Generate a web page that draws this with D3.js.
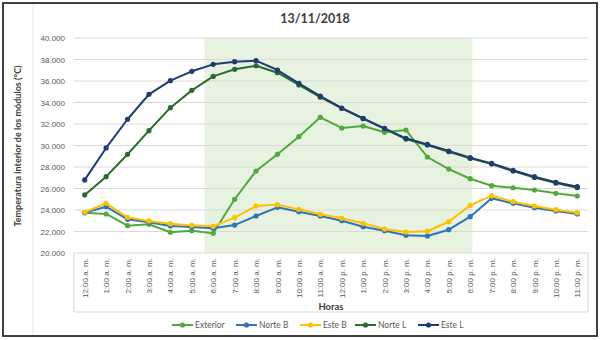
<!DOCTYPE html>
<html lang="es">
<head>
  <meta charset="UTF-8">
  <title>13/11/2018</title>
  <script src="https://d3js.org/d3.v7.min.js"></script>
  <style>
    body { margin: 0; background: #fff; }
    svg { display: block; font-family: Lato, "Open Sans", sans-serif; }
    .y-axis text { font-size: 8px; fill: #595959; }
    .x-axis text { font-size: 8px; fill: #595959; }
    .legend text { font-size: 8.5px; fill: #595959; }
  </style>
</head>
<body>
  <svg id="chart" width="600" height="340"></svg>

  <script>
    // Horas del día
    const horas = [
      "12:00 a. m.", "1:00 a. m.", "2:00 a. m.", "3:00 a. m.", "4:00 a. m.", "5:00 a. m.",
      "6:00 a. m.", "7:00 a. m.", "8:00 a. m.", "9:00 a. m.", "10:00 a. m.", "11:00 a. m.",
      "12:00 p. m.", "1:00 p. m.", "2:00 p. m.", "3:00 p. m.", "4:00 p. m.", "5:00 p. m.",
      "6:00 p. m.", "7:00 p. m.", "8:00 p. m.", "9:00 p. m.", "10:00 p. m.", "11:00 p. m."
    ];

    // Temperaturas (°C)
    const exterior = [23.75, 23.63, 22.54, 22.67, 21.93, 22.07, 21.83, 25.0, 27.63, 29.18, 30.82, 32.62,
                      31.63, 31.81, 31.23, 31.44, 28.93, 27.81, 26.91, 26.26, 26.07, 25.86, 25.55, 25.3];
    const norteB   = [23.75, 24.31, 23.13, 22.86, 22.51, 22.42, 22.3, 22.6, 23.44, 24.25, 23.84, 23.44,
                      23.0, 22.45, 22.07, 21.65, 21.58, 22.17, 23.38, 25.09, 24.62, 24.21, 23.91, 23.63];
    const esteB    = [23.79, 24.62, 23.32, 22.98, 22.73, 22.57, 22.48, 23.29, 24.37, 24.5, 24.06, 23.6,
                      23.23, 22.76, 22.23, 21.95, 22.02, 22.91, 24.43, 25.33, 24.77, 24.37, 24.03, 23.75];
    const norteL   = [25.4, 27.1, 29.18, 31.38, 33.52, 35.13, 36.43, 37.09, 37.42, 36.77, 35.63, 34.5,
                      33.45, 32.5, 31.55, 30.6, 30.05, 29.42, 28.8, 28.27, 27.62, 27.03, 26.5, 26.07];
    const esteL    = [26.8, 29.77, 32.44, 34.76, 36.03, 36.9, 37.55, 37.8, 37.89, 37.02, 35.79, 34.6,
                      33.49, 32.53, 31.6, 30.67, 30.1, 29.49, 28.87, 28.34, 27.69, 27.1, 26.58, 26.17];

    const series = [
      { name: "Exterior", values: exterior, color: "#52a83c" },
      { name: "Norte B",  values: norteB,   color: "#2e75b6" },
      { name: "Este B",   values: esteB,    color: "#ffc000" },
      { name: "Norte L",  values: norteL,   color: "#2a6a2e" },
      { name: "Este L",   values: esteL,    color: "#1f3c72" }
    ];

    const yTicks = [20, 22, 24, 26, 28, 30, 32, 34, 36, 38, 40];

    // periodo sombreado: de 6:00 a. m. a 6:00 p. m.
    const sombraInicio = "6:00 a. m.";
    const sombraFin = "6:00 p. m.";

    const svg = d3.select("#chart");
    const plot = { left: 74, right: 588, top: 38, bottom: 253 };

    const x = d3.scalePoint().domain(horas).range([plot.left, plot.right]).padding(0.5);
    const y = d3.scaleLinear().domain([20, 40]).range([plot.bottom, plot.top]);
    const step = x.step();

    // marco exterior
    svg.append("rect")
      .attr("x", 3).attr("y", 3).attr("width", 594).attr("height", 333)
      .attr("fill", "none").attr("stroke", "#3f3f3f").attr("stroke-width", 2);
    svg.append("line")
      .attr("x1", 33).attr("x2", 33).attr("y1", 4).attr("y2", 335)
      .attr("stroke", "#e4e4e4");

    // sombreado
    svg.append("rect")
      .attr("x", x(sombraInicio) - step * 0.4)
      .attr("y", plot.top)
      .attr("width", (x(sombraFin) + step * 0.1) - (x(sombraInicio) - step * 0.4))
      .attr("height", plot.bottom - plot.top)
      .attr("fill", "#e7f2e0");

    // líneas de cuadrícula
    svg.append("g")
      .selectAll("line")
      .data(yTicks.slice(1))
      .join("line")
      .attr("x1", plot.left).attr("x2", plot.right)
      .attr("y1", d => y(d)).attr("y2", d => y(d))
      .attr("stroke", "#dadada").attr("stroke-width", 1);

    // eje Y
    const yAxis = svg.append("g")
      .attr("class", "y-axis")
      .attr("transform", `translate(${plot.left},0)`)
      .call(d3.axisLeft(y).tickValues(yTicks).tickSize(0).tickPadding(9)
        .tickFormat(d => d3.format(".3f")(d).replace(",", ".")));
    yAxis.select(".domain").remove();

    // eje X con caja de etiquetas
    const xAxis = svg.append("g")
      .attr("class", "x-axis")
      .attr("transform", `translate(0,${plot.bottom})`)
      .call(d3.axisBottom(x).tickSize(0));
    xAxis.select(".domain").remove();
    xAxis.selectAll("text")
      .attr("transform", "rotate(-90)")
      .attr("text-anchor", "end")
      .attr("dy", "0.32em")
      .attr("x", -5)
      .attr("y", 0);

    const caja = svg.append("g").attr("stroke", "#d9d9d9").attr("fill", "none");
    caja.append("line").attr("x1", plot.left).attr("x2", plot.right).attr("y1", plot.bottom).attr("y2", plot.bottom);
    caja.append("line").attr("x1", plot.left).attr("x2", plot.left).attr("y1", plot.bottom).attr("y2", 312);
    caja.append("line").attr("x1", plot.right).attr("x2", plot.right).attr("y1", plot.bottom).attr("y2", 312);
    caja.append("line").attr("x1", plot.left).attr("x2", plot.right).attr("y1", 312).attr("y2", 312);

    // series
    const line = d3.line()
      .x((d, i) => x(horas[i]))
      .y(d => y(d));

    series.forEach(s => {
      svg.append("path")
        .datum(s.values)
        .attr("fill", "none")
        .attr("stroke", s.color)
        .attr("stroke-width", 2)
        .attr("stroke-linejoin", "round")
        .attr("d", line);
      svg.append("g")
        .selectAll("circle")
        .data(s.values)
        .join("circle")
        .attr("cx", (d, i) => x(horas[i]))
        .attr("cy", d => y(d))
        .attr("r", 2.6)
        .attr("fill", s.color);
    });

    // títulos
    svg.append("text")
      .attr("x", 315).attr("y", 23)
      .attr("text-anchor", "middle")
      .attr("font-size", 12.5).attr("font-weight", "bold").attr("fill", "#404040")
      .text("13/11/2018");

    svg.append("text")
      .attr("transform", "translate(21,146) rotate(-90)")
      .attr("text-anchor", "middle")
      .attr("font-size", 9).attr("font-weight", "bold").attr("fill", "#404040")
      .text("Temperatura interior de los módulos (°C)");

    svg.append("text")
      .attr("x", (plot.left + plot.right) / 2).attr("y", 310)
      .attr("text-anchor", "middle")
      .attr("font-size", 9.5).attr("font-weight", "bold").attr("fill", "#404040")
      .text("Horas");

    // leyenda
    const legendX = [172, 236, 300, 355, 418];
    const legend = svg.append("g").attr("class", "legend");
    series.forEach((s, i) => {
      const g = legend.append("g").attr("transform", `translate(${legendX[i]},325)`);
      g.append("line").attr("x1", 0).attr("x2", 21).attr("stroke", s.color).attr("stroke-width", 2);
      g.append("circle").attr("cx", 10.5).attr("r", 2.6).attr("fill", s.color);
      g.append("text").attr("x", 23).attr("dy", "0.32em").text(s.name);
    });
  </script>
</body>
</html>
